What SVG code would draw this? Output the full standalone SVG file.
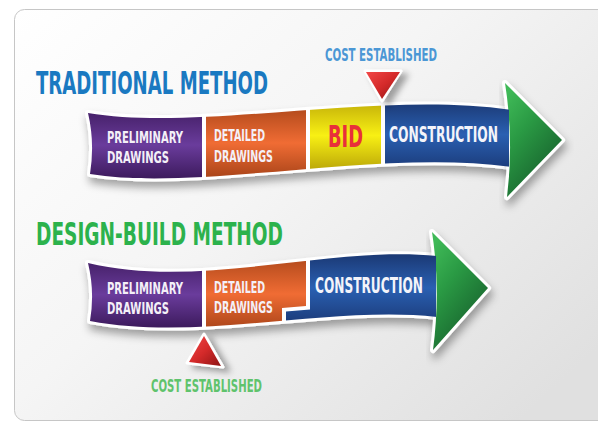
<svg xmlns="http://www.w3.org/2000/svg" width="598" height="423" viewBox="0 0 598 423">
  <defs>
    <style>
      .lbl { font-family: "DejaVu Sans Condensed", "DejaVu Sans", "Liberation Sans", sans-serif; font-stretch: condensed; font-weight: bold; }
      .seg-text { fill: #f4f0f8; font-size: 16.5px; }
      .head { font-size: 32px; }
      .cost { font-size: 18px; }
      .outline { fill: #ffffff; stroke: #ffffff; stroke-width: 6; stroke-linejoin: round; }
      .tri-outline { fill: #ffffff; stroke: #ffffff; stroke-width: 3; stroke-linejoin: round; }
    </style>
    <linearGradient id="bgGrad" x1="0" y1="0" x2="1" y2="0.7">
      <stop offset="0" stop-color="#ffffff"/>
      <stop offset="0.45" stop-color="#f5f5f5"/>
      <stop offset="1" stop-color="#e0e0e0"/>
    </linearGradient>
    <linearGradient id="purpleGrad" x1="0" y1="0" x2="0" y2="1">
      <stop offset="0" stop-color="#452068"/>
      <stop offset="0.5" stop-color="#6a3c9c"/>
      <stop offset="1" stop-color="#3c1a5c"/>
    </linearGradient>
    <linearGradient id="orangeGrad" x1="0" y1="0" x2="0" y2="1">
      <stop offset="0" stop-color="#b24a1c"/>
      <stop offset="0.5" stop-color="#f06c34"/>
      <stop offset="1" stop-color="#a94419"/>
    </linearGradient>
    <linearGradient id="yellowGrad" x1="0" y1="0" x2="0" y2="1">
      <stop offset="0" stop-color="#c2ae08"/>
      <stop offset="0.5" stop-color="#f8f014"/>
      <stop offset="1" stop-color="#bba708"/>
    </linearGradient>
    <linearGradient id="blueGrad" x1="0" y1="0" x2="0" y2="1">
      <stop offset="0" stop-color="#1a3670"/>
      <stop offset="0.5" stop-color="#2a60b2"/>
      <stop offset="1" stop-color="#1b3a78"/>
    </linearGradient>
    <linearGradient id="greenGrad" x1="0.2" y1="0" x2="0.8" y2="1">
      <stop offset="0" stop-color="#3fb957"/>
      <stop offset="0.35" stop-color="#2a9a44"/>
      <stop offset="1" stop-color="#135528"/>
    </linearGradient>
    <linearGradient id="redGrad" x1="0" y1="0" x2="1" y2="1">
      <stop offset="0" stop-color="#f24848"/>
      <stop offset="0.5" stop-color="#d42a2a"/>
      <stop offset="1" stop-color="#8e1414"/>
    </linearGradient>
    <filter id="shadow" x="-10%" y="-20%" width="130%" height="160%">
      <feDropShadow dx="2" dy="6" stdDeviation="4" flood-color="#000000" flood-opacity="0.35"/>
    </filter>
    <filter id="triShadow" x="-40%" y="-40%" width="200%" height="200%">
      <feDropShadow dx="6" dy="4" stdDeviation="3" flood-color="#000000" flood-opacity="0.35"/>
    </filter>
    <!-- band bodies, reused as outline and as clip -->
    <path id="bandTop" d="M88,113 C200,132 380,90 512,110 L512,167 C380,148 200,192 90,174 Q95,143 88,113 Z"/>
    <path id="bandBottom" d="M88,263 C200,290 330,245 437,256 L437,317 C330,305 200,342 90,321 Q95,292 88,263 Z"/>
    <clipPath id="clipTop"><use href="#bandTop"/></clipPath>
    <clipPath id="clipBottom"><use href="#bandBottom"/></clipPath>
  </defs>

  <!-- page and card -->
  <rect x="0" y="0" width="598" height="423" fill="#ffffff"/>
  <rect x="14.5" y="9.5" width="640" height="411" rx="10" fill="url(#bgGrad)" stroke="#c6c6c6" stroke-width="1"/>

  <!-- headings -->
  <g id="heading-traditional">
    <text class="lbl head" x="36" y="94" fill="#1a79c1" textLength="232" lengthAdjust="spacingAndGlyphs">TRADITIONAL METHOD</text>
  </g>
  <g id="heading-design-build">
    <text class="lbl head" x="36" y="245" fill="#2cb24c" textLength="247" lengthAdjust="spacingAndGlyphs">DESIGN-BUILD METHOD</text>
  </g>

  <!-- ===== Traditional method arrow ===== -->
  <g id="traditional-arrow">
    <use href="#bandTop" class="outline" filter="url(#shadow)"/>
    <g id="t-arrowhead">
      <path d="M505,83 L562,140 L507,197 Q514,140 505,83 Z" class="outline" filter="url(#shadow)"/>
      <path d="M505,83 L562,140 L507,197 Q514,140 505,83 Z" fill="url(#greenGrad)"/>
    </g>
    <g clip-path="url(#clipTop)">
      <g id="t-preliminary">
        <rect x="80" y="111" width="122" height="68" fill="url(#purpleGrad)"/>
      </g>
      <g id="t-detailed">
        <rect x="206" y="108" width="100" height="70" fill="url(#orangeGrad)"/>
      </g>
      <g id="t-bid">
        <rect x="310" y="101" width="71" height="69" fill="url(#yellowGrad)"/>
      </g>
      <g id="t-construction">
        <rect x="385" y="99" width="124" height="71" fill="url(#blueGrad)"/>
      </g>
    </g>
    <text class="lbl seg-text" x="107" y="143" textLength="76" lengthAdjust="spacingAndGlyphs">PRELIMINARY</text>
    <text class="lbl seg-text" x="107" y="163" textLength="62" lengthAdjust="spacingAndGlyphs">DRAWINGS</text>
    <text class="lbl seg-text" x="214" y="141" fill="#f8ece2" textLength="51" lengthAdjust="spacingAndGlyphs">DETAILED</text>
    <text class="lbl seg-text" x="214" y="162" fill="#f8ece2" textLength="59" lengthAdjust="spacingAndGlyphs">DRAWINGS</text>
    <text class="lbl" x="328" y="147" font-size="30" fill="#e8303a" textLength="35" lengthAdjust="spacingAndGlyphs">BID</text>
    <text class="lbl" x="389" y="142" font-size="22" fill="#f4f4fa" textLength="109" lengthAdjust="spacingAndGlyphs">CONSTRUCTION</text>
  </g>

  <!-- cost marker, traditional -->
  <g id="t-cost">
    <path d="M365,71 L401,71 L382,101 Z" class="tri-outline" filter="url(#triShadow)"/>
    <path d="M366,72 L400,72 L382,99 Z" fill="url(#redGrad)"/>
    <text class="lbl cost" x="325" y="61" fill="#4b97d5" textLength="112" lengthAdjust="spacingAndGlyphs">COST ESTABLISHED</text>
  </g>

  <!-- ===== Design-build method arrow ===== -->
  <g id="design-build-arrow">
    <use href="#bandBottom" class="outline" filter="url(#shadow)"/>
    <g id="d-arrowhead">
      <path d="M432,232 L488,288 L433,350 Q441,290 432,232 Z" class="outline" filter="url(#shadow)"/>
      <path d="M432,232 L488,288 L433,350 Q441,290 432,232 Z" fill="url(#greenGrad)"/>
    </g>
    <g clip-path="url(#clipBottom)">
      <g id="d-preliminary">
        <rect x="80" y="261" width="122" height="67" fill="url(#purpleGrad)"/>
      </g>
      <g id="d-detailed">
        <path d="M206,258 L306,258 L306,306 L282,308 L282,330 L206,330 Z" fill="url(#orangeGrad)"/>
      </g>
      <g id="d-construction">
        <path d="M310,252 L436,252 L436,324 L286,324 L286,311.5 L310,309.5 Z" fill="url(#blueGrad)"/>
      </g>
    </g>
    <text class="lbl seg-text" x="107" y="294" textLength="76" lengthAdjust="spacingAndGlyphs">PRELIMINARY</text>
    <text class="lbl seg-text" x="107" y="314" textLength="62" lengthAdjust="spacingAndGlyphs">DRAWINGS</text>
    <text class="lbl seg-text" x="214" y="293" fill="#f8ece2" textLength="51" lengthAdjust="spacingAndGlyphs">DETAILED</text>
    <text class="lbl seg-text" x="214" y="313" fill="#f8ece2" textLength="59" lengthAdjust="spacingAndGlyphs">DRAWINGS</text>
    <text class="lbl" x="315" y="293" font-size="21" fill="#f4f4fa" textLength="108" lengthAdjust="spacingAndGlyphs">CONSTRUCTION</text>
  </g>

  <!-- cost marker, design-build -->
  <g id="d-cost">
    <path d="M204,334 L223,367 L187,363 Z" class="tri-outline" filter="url(#triShadow)"/>
    <path d="M204,336 L221,366 L189,362 Z" fill="url(#redGrad)"/>
    <text class="lbl cost" x="151" y="392" fill="#5fc36c" textLength="111" lengthAdjust="spacingAndGlyphs">COST ESTABLISHED</text>
  </g>
</svg>
